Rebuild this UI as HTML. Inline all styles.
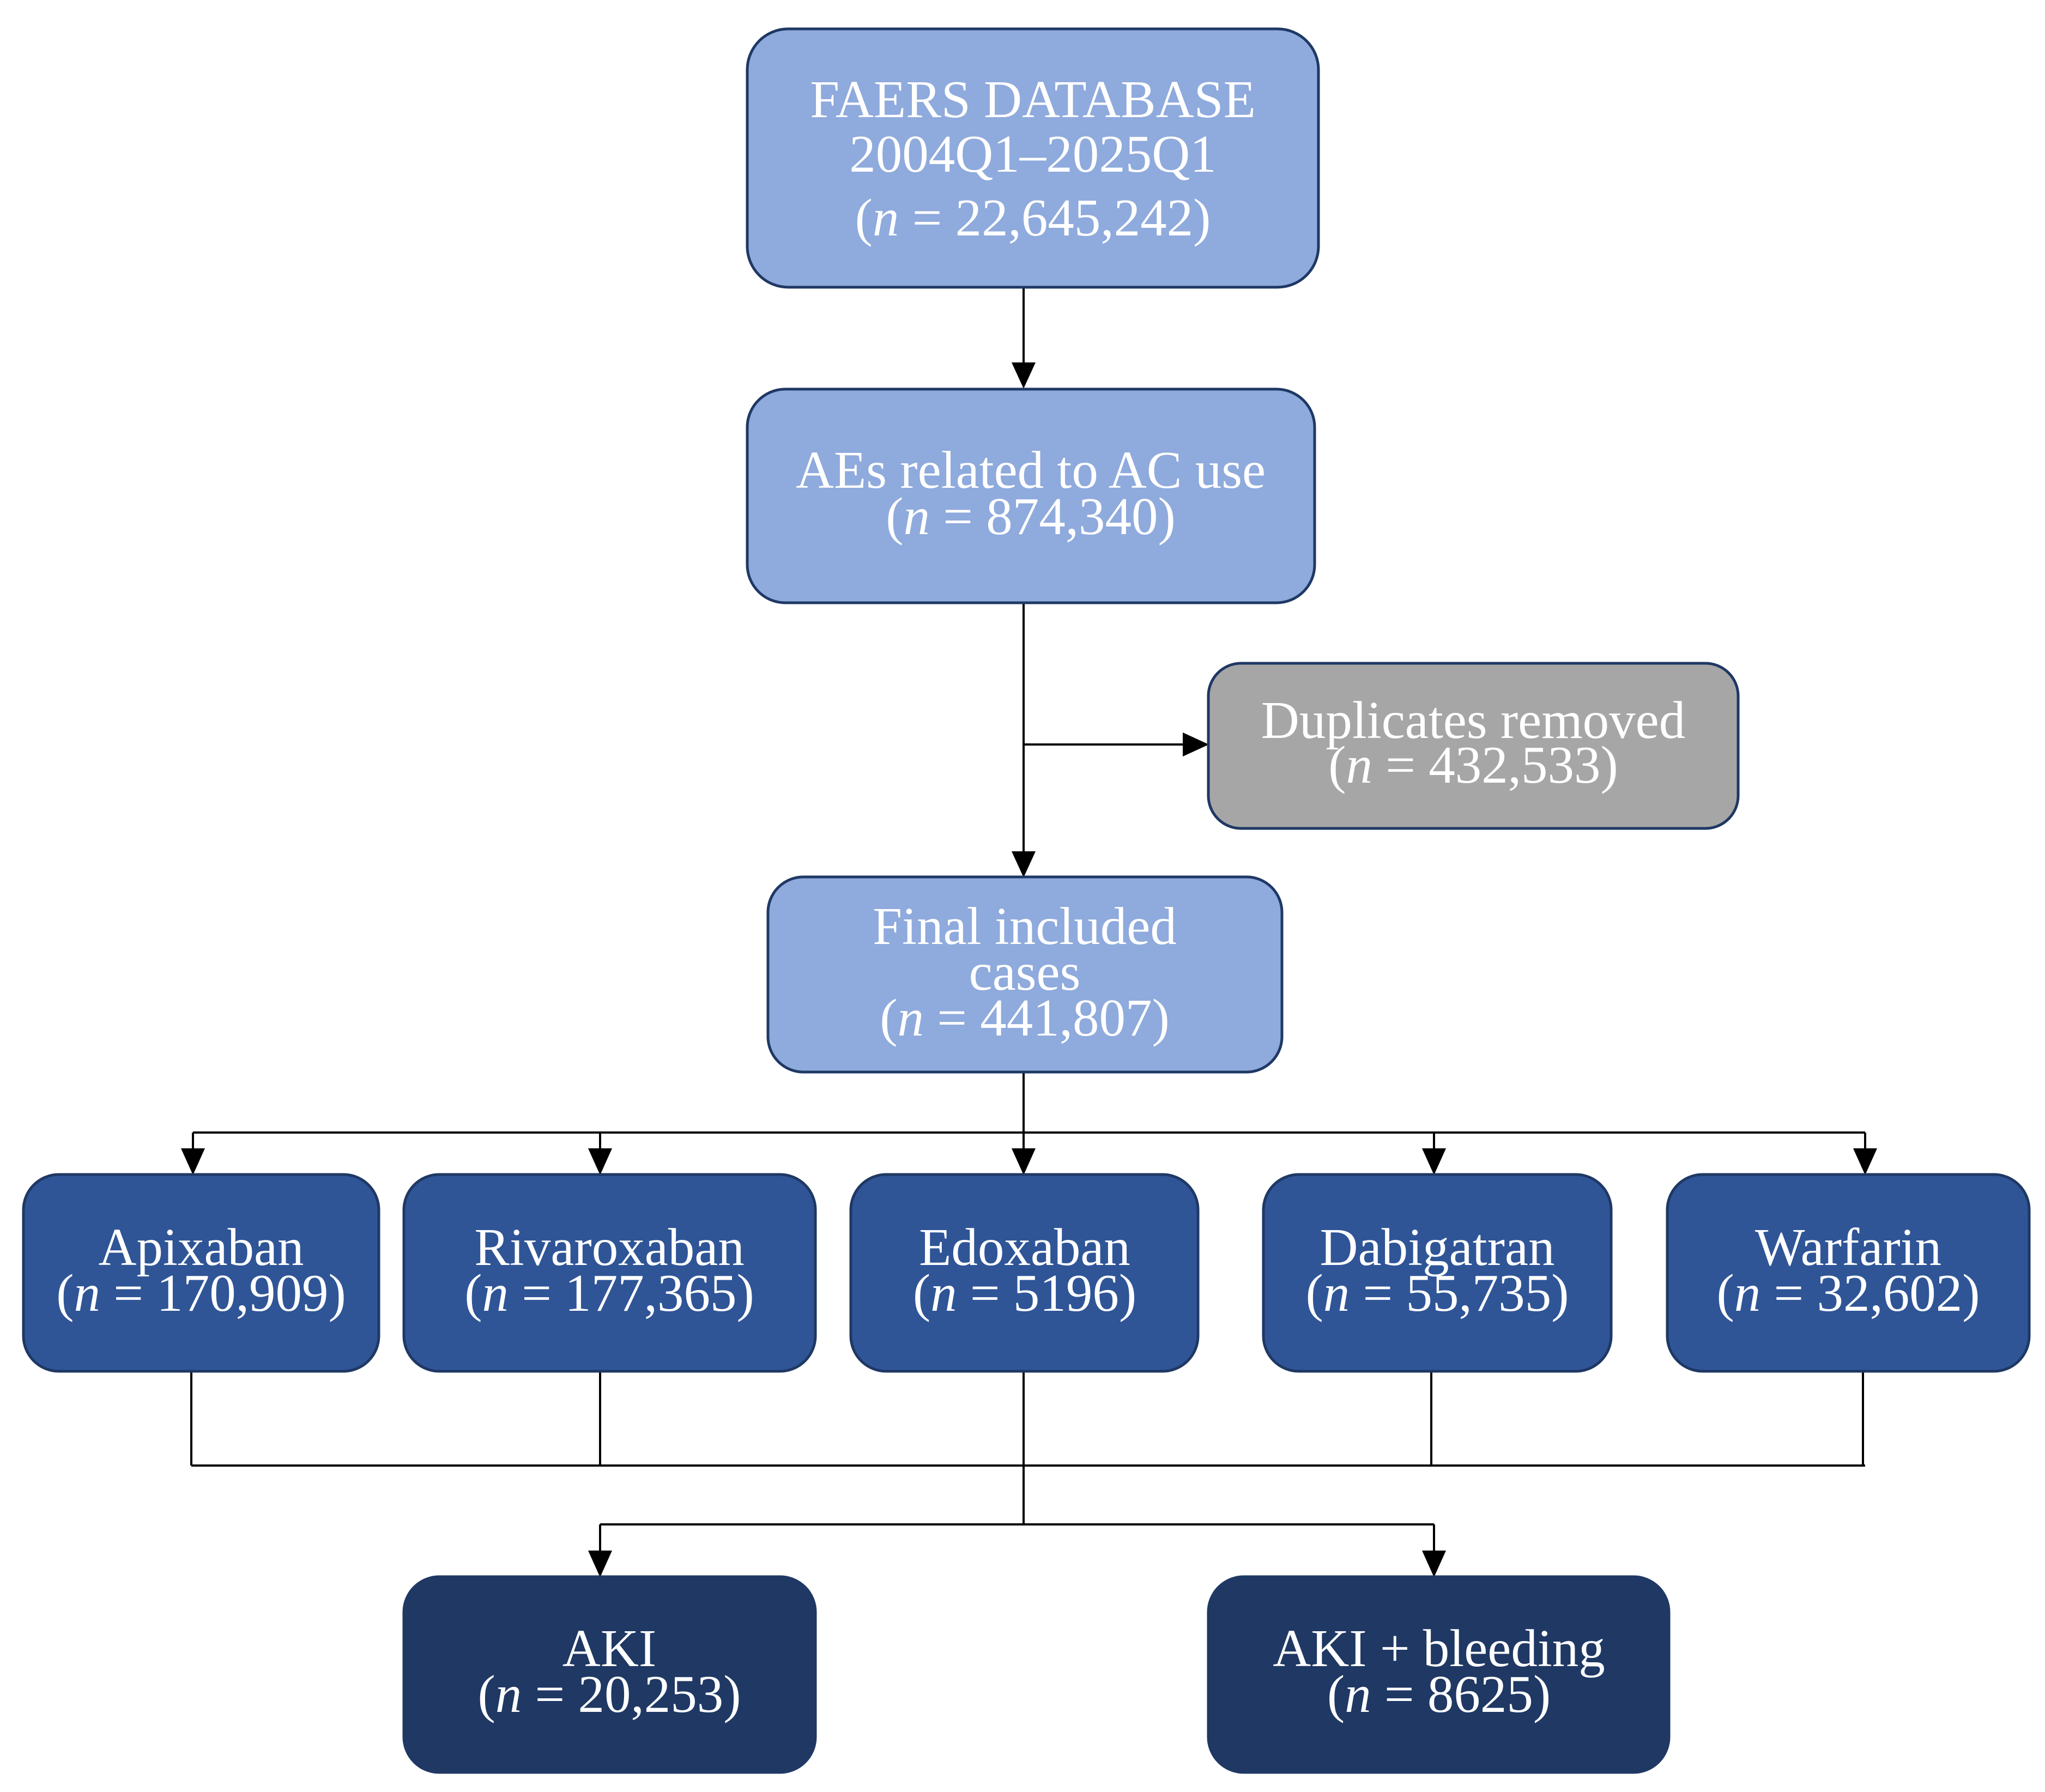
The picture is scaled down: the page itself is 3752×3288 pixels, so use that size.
<!DOCTYPE html>
<html><head><meta charset="utf-8"><style>
html,body{margin:0;padding:0;background:#fff}
svg{display:block}
text{font-family:"Liberation Serif",serif;fill:#fff;font-size:97px;text-anchor:middle}
</style></head><body>
<svg width="3752" height="3288" viewBox="0 0 3752 3288" xmlns="http://www.w3.org/2000/svg">
<g stroke="#000" stroke-width="4" fill="none">
<line x1="1878" y1="527" x2="1878" y2="668"/>
<line x1="1878" y1="1106" x2="1878" y2="1565"/>
<line x1="1878" y1="1366" x2="2172" y2="1366"/>
<line x1="1878" y1="1967" x2="1878" y2="2078"/>
<line x1="354" y1="2078" x2="3422" y2="2078"/>
<line x1="354" y1="2078" x2="354" y2="2110"/>
<line x1="1101" y1="2078" x2="1101" y2="2110"/>
<line x1="1878" y1="2078" x2="1878" y2="2110"/>
<line x1="2631" y1="2078" x2="2631" y2="2110"/>
<line x1="3422" y1="2078" x2="3422" y2="2110"/>
<line x1="351" y1="2516" x2="351" y2="2689"/>
<line x1="1101" y1="2516" x2="1101" y2="2689"/>
<line x1="1878" y1="2516" x2="1878" y2="2797"/>
<line x1="2626" y1="2516" x2="2626" y2="2689"/>
<line x1="3418" y1="2516" x2="3418" y2="2689"/>
<line x1="351" y1="2689" x2="3422" y2="2689"/>
<line x1="1101" y1="2797" x2="2631" y2="2797"/>
<line x1="1101" y1="2797" x2="1101" y2="2848"/>
<line x1="2631" y1="2797" x2="2631" y2="2848"/>
</g>
<g fill="#000">
<polygon points="1856,665 1900,665 1878,713"/>
<polygon points="1856,1562 1900,1562 1878,1610"/>
<polygon points="2170,1344 2170,1388 2218,1366"/>
<polygon points="332,2107 376,2107 354,2156"/>
<polygon points="1079,2107 1123,2107 1101,2156"/>
<polygon points="1856,2107 1900,2107 1878,2156"/>
<polygon points="2609,2107 2653,2107 2631,2156"/>
<polygon points="3400,2107 3444,2107 3422,2156"/>
<polygon points="1079,2845 1123,2845 1101,2894"/>
<polygon points="2609,2845 2653,2845 2631,2894"/>
</g>
<g stroke="#1f3864" stroke-width="5">
<rect x="1371" y="53" width="1048" height="474" rx="75" fill="#8faadc"/>
<rect x="1371" y="714" width="1041" height="392" rx="70" fill="#8faadc"/>
<rect x="2217" y="1217" width="972" height="303" rx="60" fill="#a6a6a6"/>
<rect x="1409" y="1609" width="943" height="358" rx="65" fill="#8faadc"/>
<rect x="43" y="2155" width="652" height="361" rx="65" fill="#2f5597"/>
<rect x="741" y="2155" width="755" height="361" rx="65" fill="#2f5597"/>
<rect x="1561" y="2155" width="637" height="361" rx="65" fill="#2f5597"/>
<rect x="2318" y="2155" width="638" height="361" rx="65" fill="#2f5597"/>
<rect x="3059" y="2155" width="664" height="361" rx="65" fill="#2f5597"/>
<rect x="741" y="2893" width="755" height="359" rx="65" fill="#1f3864"/>
<rect x="2217" y="2893" width="845" height="359" rx="65" fill="#1f3864"/>
</g>
<text x="1895" y="215">FAERS DATABASE</text>
<text x="1895" y="315">2004Q1–2025Q1</text>
<text x="1895" y="432">(<tspan font-style="italic">n</tspan> = 22,645,242)</text>
<text x="1891" y="895">AEs related to AC use</text>
<text x="1891" y="980">(<tspan font-style="italic">n</tspan> = 874,340)</text>
<text x="2703" y="1354">Duplicates removed</text>
<text x="2703" y="1436">(<tspan font-style="italic">n</tspan> = 432,533)</text>
<text x="1880" y="1732">Final included</text>
<text x="1880" y="1816">cases</text>
<text x="1880" y="1900">(<tspan font-style="italic">n</tspan> = 441,807)</text>
<text x="369" y="2321">Apixaban</text>
<text x="369" y="2405">(<tspan font-style="italic">n</tspan> = 170,909)</text>
<text x="1118" y="2321">Rivaroxaban</text>
<text x="1118" y="2405">(<tspan font-style="italic">n</tspan> = 177,365)</text>
<text x="1880" y="2321">Edoxaban</text>
<text x="1880" y="2405">(<tspan font-style="italic">n</tspan> = 5196)</text>
<text x="2637" y="2321">Dabigatran</text>
<text x="2637" y="2405">(<tspan font-style="italic">n</tspan> = 55,735)</text>
<text x="3391" y="2321">Warfarin</text>
<text x="3391" y="2405">(<tspan font-style="italic">n</tspan> = 32,602)</text>
<text x="1118" y="3057">AKI</text>
<text x="1118" y="3141">(<tspan font-style="italic">n</tspan> = 20,253)</text>
<text x="2640" y="3057">AKI + bleeding</text>
<text x="2640" y="3141">(<tspan font-style="italic">n</tspan> = 8625)</text>
</svg>
</body></html>
